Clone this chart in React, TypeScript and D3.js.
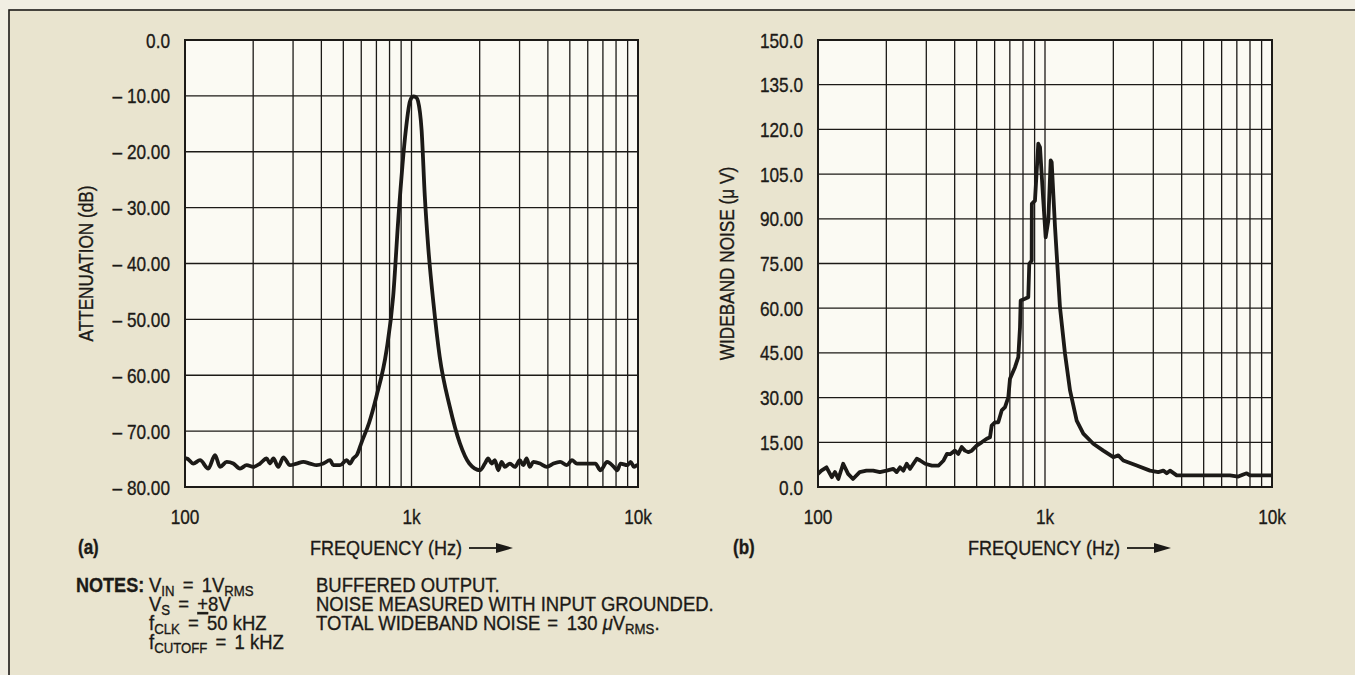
import React from 'react';
import * as d3 from 'd3';

// ---------- DATA ----------
const attenFreq = [100, 101.7, 108.8, 116.5, 126.7, 135.7, 142.8, 152.8, 163.4, 174.9, 187.2, 200.3, 214.4, 229.4, 237.3, 245.5, 258.3, 271.7, 290.8, 311.2, 333, 356.4, 381.4, 408.2, 436.8, 451.8, 483.5, 517.5, 535, 553, 575, 602, 650, 700, 776, 830, 876, 944, 984, 1017, 1050, 1068, 1108, 1145, 1185, 1250, 1332, 1475, 1636, 1800, 2006, 2109, 2181, 2257, 2334, 2414, 2498, 2582, 2720, 2860, 3010, 3114, 3223, 3332, 3449, 3693, 3955, 4234, 4532, 4852, 5106, 5375, 5755, 6160, 6484, 6825, 7307, 7822, 8097, 8374, 8970, 9278, 9600, 9940, 10000];
const attenDb = [-74.9, -74.9, -75.8, -75.2, -76.7, -74.3, -76.4, -75.5, -75.8, -76.7, -76.1, -76.4, -75.8, -74.9, -75.8, -74.9, -76.4, -74.7, -76.1, -75.8, -75.5, -75.8, -76.1, -75.8, -75.2, -76.1, -76.1, -75.2, -75.8, -74.9, -74.2, -72, -68.5, -63.8, -55.5, -45.9, -31.6, -16.1, -11, -10.1, -10.3, -10.9, -16.1, -28, -37, -47.1, -56.7, -65.6, -72.2, -75.8, -77.0, -75.8, -74.9, -75.8, -75.2, -77.0, -75.5, -76.4, -75.8, -76.4, -75.2, -76.1, -74.9, -76.4, -75.5, -75.8, -76.4, -75.8, -75.5, -76.1, -75.2, -75.8, -75.8, -75.8, -75.8, -77.0, -75.5, -76.4, -77.0, -75.8, -76.1, -75.5, -76.4, -76.1, -76.1];

const noiseFreq = [100, 103.5, 109, 115, 118.8, 122.9, 129.1, 135.7, 142.6, 152.6, 163.4, 175, 187.3, 200.5, 214.7, 222, 229.8, 237.7, 245.9, 254.5, 263.2, 272.4, 281.8, 296.5, 317.5, 340, 357.5, 369.9, 382, 401, 415, 429.5, 444, 459, 475.5, 500, 526, 553.6, 572.4, 582.3, 602, 622.6, 644.6, 666.6, 689.1, 701.1, 737.5, 762.7, 776, 781.4, 816.3, 844, 852.6, 873.6, 875, 903.3, 934.2, 950.6, 982.9, 1007, 1034, 1059.5, 1070, 1107, 1164, 1225, 1289, 1379, 1475, 1632, 1806, 2000, 2103, 2213, 2535, 2901, 3156, 3320, 3437, 3554, 3804, 4354, 5333, 6531, 7104, 7474, 7737, 8001, 9970];
const noiseUv = [4.4, 5.5, 6.6, 3.3, 5.0, 2.7, 7.8, 4.4, 2.7, 5.0, 5.5, 5.5, 5.0, 5.5, 6.1, 5.0, 6.6, 5.5, 7.8, 6.1, 7.8, 9.5, 8.9, 7.8, 7.2, 7.2, 8.9, 11.1, 11.0, 12.2, 11.1, 13.4, 12.2, 11.7, 12.2, 13.9, 15.0, 16.2, 16.7, 20.6, 21.7, 21.7, 25.7, 26.8, 30.1, 36.3, 40.2, 43.6, 53.6, 62.6, 63.2, 63.7, 74.9, 76.0, 95.0, 96.1, 115.2, 114.0, 96.1, 83.8, 89.4, 109.6, 109.0, 87.2, 60.3, 44.7, 32.4, 22.3, 17.9, 14.5, 12.2, 10.0, 10.6, 8.9, 7.2, 5.5, 5.0, 5.5, 4.6, 5.5, 3.9, 3.9, 3.9, 3.9, 3.5, 4.2, 4.6, 3.9, 3.9];

const attenTicks = [0, -10, -20, -30, -40, -50, -60, -70, -80];
const attenTickLabels = ['0.0', '\u2013 10.00', '\u2013 20.00', '\u2013 30.00', '\u2013 40.00', '\u2013 50.00', '\u2013 60.00', '\u2013 70.00', '\u2013 80.00'];
const noiseTicks = [0, 15, 30, 45, 60, 75, 90, 105, 120, 135, 150];
const noiseTickLabels = ['0.0', '15.00', '30.00', '45.00', '60.00', '75.00', '90.00', '105.0', '120.0', '135.0', '150.0'];
const freqTicks = [100, 1000, 10000];
const freqTickLabels = ['100', '1k', '10k'];
const gridFreqs = [100, 200, 300, 400, 500, 600, 700, 800, 900, 1000, 2000, 3000, 4000, 5000, 6000, 7000, 8000, 9000, 10000];

// ---------- STYLE ----------
const FONT = "'Liberation Sans', Arial, Helvetica, sans-serif";
const NARROW = 0.82;
const INK = '#1c1a17';
const PAPER_OUT = '#f1eee3';
const PAPER = '#e9e4cf';
const PLOT_BG = '#fbfaf3';

type TProps = {
  x: number; y: number; size: number; anchor?: string; weight?: string;
  rotate?: number; sx?: number; children: React.ReactNode;
};
function T({ x, y, size, anchor = 'start', weight = 'normal', rotate = 0, sx = NARROW, children }: TProps) {
  return (
    <text
      transform={`translate(${x},${y}) rotate(${rotate}) scale(${sx},1)`}
      textAnchor={anchor}
      fontSize={size}
      fontWeight={weight}
      fontFamily={FONT}
      fill={INK}
      stroke={INK}
      strokeWidth={0.35}
      style={{ whiteSpace: 'pre' }}
    >
      {children}
    </text>
  );
}

type PanelProps = {
  x0: number; x1: number; y0: number; y1: number;
  freq: number[]; vals: number[];
  yDomain: [number, number];
  yTicks: number[]; yLabels: string[];
  yTitle: string; titleX: number; labelRight: number;
  letter: string; letterX: number; freqX: number; id: string; smooth: boolean;
};

function Panel(p: PanelProps) {
  const x = d3.scaleLog().domain([100, 10000]).range([p.x0, p.x1]);
  const y = d3.scaleLinear().domain(p.yDomain).range([p.y1, p.y0]);
  const line = d3.line<number>()
    .x((_, i) => x(p.freq[i]))
    .y((v) => y(v))
    .curve(p.smooth ? d3.curveMonotoneX : d3.curveLinear);
  const path = line(p.vals) || '';
  const cy = (p.y0 + p.y1) / 2;
  const ay = p.y1 + 61;
  return (
    <g>
      <rect x={p.x0} y={p.y0} width={p.x1 - p.x0} height={p.y1 - p.y0} fill={PLOT_BG} />
      {gridFreqs.map((f) => (
        <line key={'v' + f} x1={x(f)} x2={x(f)} y1={p.y0} y2={p.y1} stroke={INK} strokeWidth={1.3} />
      ))}
      {p.yTicks.map((t) => (
        <line key={'h' + t} x1={p.x0} x2={p.x1} y1={y(t)} y2={y(t)} stroke={INK} strokeWidth={1.3} />
      ))}
      <clipPath id={'clip' + p.id}>
        <rect x={p.x0} y={p.y0 - 2} width={p.x1 - p.x0} height={p.y1 - p.y0 + 4} />
      </clipPath>
      <path d={path} fill="none" stroke={INK} strokeWidth={3.8} strokeLinejoin="round" strokeLinecap="round" clipPath={`url(#clip${p.id})`} />
      <rect x={p.x0} y={p.y0} width={p.x1 - p.x0} height={p.y1 - p.y0} fill="none" stroke={INK} strokeWidth={2} />
      {p.yTicks.map((t, i) => (
        <T key={'yl' + t} x={p.labelRight} y={y(t) + 7.5} size={21} anchor="end">{p.yLabels[i]}</T>
      ))}
      {freqTicks.map((f, i) => (
        <T key={'xl' + f} x={x(f)} y={p.y1 + 37} size={21} anchor="middle">{freqTickLabels[i]}</T>
      ))}
      <T x={p.titleX} y={cy} size={21} anchor="middle" rotate={-90}>{p.yTitle}</T>
      <T x={p.letterX} y={p.y1 + 67} size={20} weight="bold" sx={0.85}>{p.letter}</T>
      <T x={p.freqX} y={p.y1 + 68} size={21} sx={0.86}>FREQUENCY (Hz)</T>
      <line x1={p.freqX + 159} x2={p.freqX + 190} y1={ay} y2={ay} stroke={INK} strokeWidth={1.8} />
      <path d={`M${p.freqX + 203},${ay} L${p.freqX + 186},${ay - 5} L${p.freqX + 186},${ay + 5} Z`} fill={INK} />
    </g>
  );
}

export default function App() {
  const nf = 21;
  const ns = 0.88;
  const sub = 15;
  const d = 3.5;
  return (
    <svg width={1355} height={675} style={{ position: 'absolute', left: 0, top: 0 }} xmlns="http://www.w3.org/2000/svg">
      <rect x={0} y={0} width={1355} height={675} fill={PAPER_OUT} />
      <rect x={9} y={10} width={1360} height={680} fill={PAPER} stroke={INK} strokeWidth={1.6} />
      <Panel id="a" x0={185} x1={638} y0={40} y1={487} freq={attenFreq} vals={attenDb} yDomain={[-80, 0]}
        yTicks={attenTicks} yLabels={attenTickLabels} yTitle="ATTENUATION (dB)" titleX={93} labelRight={170}
        letter="(a)" letterX={78} freqX={310} smooth={true} />
      <Panel id="b" x0={818} x1={1272} y0={40} y1={487} freq={noiseFreq} vals={noiseUv} yDomain={[0, 150]}
        yTicks={noiseTicks} yLabels={noiseTickLabels} yTitle={'WIDEBAND NOISE (\u03bc V)'} titleX={734} labelRight={803}
        letter="(b)" letterX={733} freqX={968} smooth={false} />
      <T x={76} y={592} size={nf} sx={0.86} weight="bold">NOTES:</T>
      <T x={149} y={592} size={nf} sx={ns}>V<tspan fontSize={sub} dy={3.5}>IN</tspan><tspan dy={-3.5} dx={d}> = </tspan><tspan dx={d}>1V</tspan><tspan fontSize={sub} dy={3.5}>RMS</tspan></T>
      <T x={149} y={611} size={nf} sx={ns}>V<tspan fontSize={sub} dy={3.5}>S</tspan><tspan dy={-3.5} dx={d}> = </tspan><tspan dx={d} textDecoration="underline">+</tspan>8V</T>
      <T x={149} y={630} size={nf} sx={ns}>f<tspan fontSize={sub} dy={3.5}>CLK</tspan><tspan dy={-3.5} dx={d}> = </tspan><tspan dx={d}>50 kHZ</tspan></T>
      <T x={149} y={649} size={nf} sx={ns}>f<tspan fontSize={sub} dy={3.5}>CUTOFF</tspan><tspan dy={-3.5} dx={d}> = </tspan><tspan dx={d}>1 kHZ</tspan></T>
      <T x={316} y={592} size={nf} sx={ns}>BUFFERED OUTPUT.</T>
      <T x={316} y={611} size={nf} sx={ns}>NOISE MEASURED WITH INPUT GROUNDED.</T>
      <T x={316} y={630} size={nf} sx={ns}>TOTAL WIDEBAND NOISE <tspan dx={2}>=</tspan><tspan dx={4}> 130 </tspan><tspan fontStyle="italic">{'\u03bc'}</tspan>V<tspan fontSize={sub} dy={3.5}>RMS</tspan><tspan dy={-3.5}>.</tspan></T>
    </svg>
  );
}
